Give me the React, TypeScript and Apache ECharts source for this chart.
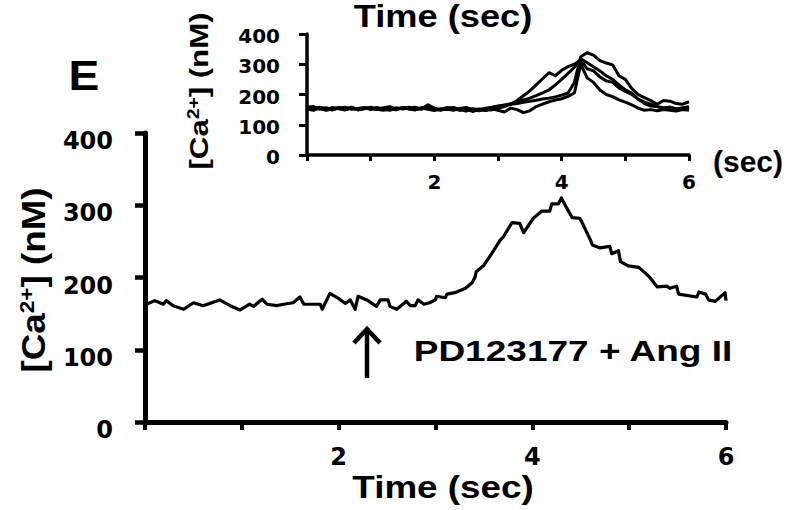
import React, { useEffect, useRef } from 'react';
import * as echarts from 'echarts';

// Main trace: time (sec) and [Ca2+] (nM)
const mainTime = [0, 0.1, 0.19, 0.22, 0.29, 0.4, 0.5, 0.6, 0.77, 0.88, 0.98, 1.08, 1.12, 1.21, 1.26, 1.36, 1.43, 1.53, 1.6, 1.64, 1.81, 1.83, 1.91, 2.01, 2.07, 2.12, 2.17, 2.2, 2.29, 2.39, 2.43, 2.51, 2.53, 2.6, 2.7, 2.74, 2.79, 2.82, 2.88, 2.94, 3.0, 3.01, 3.1, 3.12, 3.2, 3.31, 3.38, 3.41, 3.42, 3.5, 3.58, 3.67, 3.7, 3.79, 3.87, 3.91, 4.01, 4.1, 4.18, 4.2, 4.27, 4.3, 4.34, 4.41, 4.49, 4.51, 4.6, 4.62, 4.7, 4.8, 4.82, 4.89, 4.91, 4.99, 5.1, 5.2, 5.22, 5.29, 5.39, 5.42, 5.49, 5.51, 5.7, 5.72, 5.79, 5.82, 5.89, 5.99, 6.0];
const mainCa = [162, 168, 163, 168, 161, 156, 165, 161, 169, 161, 155, 163, 160, 170, 163, 161, 163, 165, 173, 163, 163, 156, 178, 170, 164, 169, 156, 174, 169, 160, 169, 169, 160, 156, 167, 161, 161, 169, 163, 165, 169, 174, 172, 177, 179, 185, 193, 201, 208, 217, 233, 252, 256, 276, 275, 262, 282, 292, 292, 302, 302, 310, 300, 283, 282, 277, 252, 245, 241, 243, 233, 237, 222, 216, 214, 202, 199, 187, 188, 185, 188, 177, 173, 180, 177, 169, 167, 179, 168];

// Inset: four traces sampled every 0.1 s
const insetTime = [0, 0.1, 0.2, 0.3, 0.4, 0.5, 0.6, 0.7, 0.8, 0.9, 1.0, 1.1, 1.2, 1.3, 1.4, 1.5, 1.6, 1.7, 1.8, 1.9, 2.0, 2.1, 2.2, 2.3, 2.4, 2.5, 2.6, 2.7, 2.8, 2.9, 3.0, 3.1, 3.2, 3.3, 3.4, 3.5, 3.6, 3.7, 3.8, 3.9, 4.0, 4.1, 4.2, 4.3, 4.4, 4.5, 4.6, 4.7, 4.8, 4.9, 5.0, 5.1, 5.2, 5.3, 5.4, 5.5, 5.6, 5.7, 5.8, 5.9, 6.0];
const insetA = [158, 160, 152, 156, 150, 155, 158, 151, 154, 157, 150, 153, 156, 160, 152, 155, 158, 150, 154, 156, 152, 150, 157, 153, 148, 155, 150, 146, 152, 149, 155, 160, 168, 180, 196, 212, 232, 252, 272, 262, 280, 292, 300, 314, 285, 278, 258, 245, 240, 222, 210, 200, 185, 175, 168, 160, 156, 158, 152, 150, 156];
const insetB = [152, 148, 155, 150, 157, 153, 149, 156, 151, 154, 158, 150, 152, 155, 149, 157, 153, 150, 156, 160, 151, 148, 154, 157, 150, 145, 153, 150, 155, 158, 162, 165, 168, 170, 174, 178, 181, 185, 188, 192, 198, 205, 240, 325, 338, 330, 312, 304, 298, 262, 250, 220, 200, 190, 180, 168, 180, 178, 170, 168, 176];
const insetC = [150, 156, 153, 148, 152, 157, 150, 155, 149, 153, 156, 151, 148, 154, 150, 157, 152, 149, 155, 151, 147, 153, 150, 156, 149, 152, 144, 150, 147, 153, 148, 142, 155, 150, 140, 146, 160, 168, 176, 182, 186, 194, 205, 300, 255, 240, 215, 200, 193, 182, 175, 166, 155, 148, 150, 146, 150, 148, 145, 150, 148];
const insetD = [155, 151, 158, 153, 149, 156, 152, 158, 150, 155, 153, 157, 150, 148, 156, 152, 155, 158, 151, 166, 155, 150, 152, 148, 154, 157, 150, 152, 148, 150, 158, 164, 170, 176, 182, 188, 196, 205, 215, 232, 250, 270, 290, 318, 305, 292, 278, 262, 250, 232, 215, 205, 185, 170, 162, 160, 155, 158, 152, 156, 160];

const xLabelsShown = [2, 4, 6];

const SANS = "'Liberation Sans', Arial, sans-serif";
const WIDE = "'DejaVu Sans', sans-serif";

function pairs(t: number[], v: number[]) {
  return t.map((x, i) => [x, v[i]]);
}

export default function App() {
  const ref = useRef<HTMLDivElement>(null);
  useEffect(() => {
    const chart = echarts.init(ref.current!, null, { renderer: 'svg' });
    const xFmt = (v: number) => (xLabelsShown.includes(v) ? String(v) : '');
    const lineS = (data: number[][], xi: number, w: number) => ({
      type: 'line',
      xAxisIndex: xi,
      yAxisIndex: xi,
      data,
      symbol: 'none',
      showSymbol: false,
      lineStyle: { color: '#000', width: w, join: 'round' },
      z: 3,
    });
    const option: any = {
      animation: false,
      backgroundColor: '#fff',
      grid: [
        { left: 145, top: 133, width: 581, height: 289, containLabel: false, outerBoundsMode: 'none' },
        { left: 307, top: 34, width: 382, height: 121, containLabel: false, outerBoundsMode: 'none' },
      ],
      xAxis: [
        {
          type: 'value', gridIndex: 0, min: 0, max: 6, interval: 1,
          splitLine: { show: false },
          axisLine: { show: true, onZero: false, lineStyle: { color: '#000', width: 5 } },
          axisTick: { show: true, length: 8, lineStyle: { color: '#000', width: 4 } },
          axisLabel: { formatter: xFmt, margin: 23, color: '#000', fontFamily: WIDE, fontWeight: 'bold', fontSize: 24 },
        },
        {
          type: 'value', gridIndex: 1, min: 0, max: 6, interval: 1,
          splitLine: { show: false },
          axisLine: { show: true, onZero: false, lineStyle: { color: '#000', width: 3.5 } },
          axisTick: { show: true, length: 6, lineStyle: { color: '#000', width: 3 } },
          axisLabel: { formatter: xFmt, margin: 17, color: '#000', fontFamily: WIDE, fontWeight: 'bold', fontSize: 20 },
        },
      ],
      yAxis: [
        {
          type: 'value', gridIndex: 0, min: 0, max: 400, interval: 100,
          splitLine: { show: false },
          axisLine: { show: true, onZero: false, lineStyle: { color: '#000', width: 5 } },
          axisTick: { show: true, length: 10, lineStyle: { color: '#000', width: 4.5 } },
          axisLabel: { margin: 32, verticalAlign: 'top', lineHeight: 16, color: '#000', fontFamily: WIDE, fontWeight: 'bold', fontSize: 24 },
        },
        {
          type: 'value', gridIndex: 1, min: 0, max: 400, interval: 100,
          splitLine: { show: false },
          axisLine: { show: true, onZero: false, lineStyle: { color: '#000', width: 3.5 } },
          axisTick: { show: true, length: 8, lineStyle: { color: '#000', width: 3 } },
          axisLabel: { margin: 27, verticalAlign: 'top', lineHeight: 4, color: '#000', fontFamily: WIDE, fontWeight: 'bold', fontSize: 20 },
        },
      ],
      series: [
        lineS(pairs(mainTime, mainCa), 0, 3.2),
        lineS(pairs(insetTime, insetA), 1, 3),
        lineS(pairs(insetTime, insetB), 1, 3),
        lineS(pairs(insetTime, insetC), 1, 3),
        lineS(pairs(insetTime, insetD), 1, 3),
      ],
      graphic: [
        { type: 'text', x: 84, y: 75, scaleX: 1.1, style: { text: 'E', fill: '#000', font: `bold 42px ${SANS}`, align: 'center', verticalAlign: 'middle' } },
        { type: 'text', x: 443, y: 15.5, scaleX: 1.17, style: { text: 'Time (sec)', fill: '#000', font: `bold 31px ${SANS}`, align: 'center', verticalAlign: 'middle' } },
        { type: 'text', x: 443, y: 487, scaleX: 1.15, style: { text: 'Time (sec)', fill: '#000', font: `bold 32px ${SANS}`, align: 'center', verticalAlign: 'middle' } },
        { type: 'text', x: 748, y: 161, style: { text: '(sec)', fill: '#000', font: `bold 30px ${SANS}`, align: 'center', verticalAlign: 'middle' } },
        { type: 'text', x: 573, y: 350, scaleX: 1.235, style: { text: 'PD123177 + Ang II', fill: '#000', font: `bold 30px ${SANS}`, align: 'center', verticalAlign: 'middle' } },
        {
          type: 'text', x: 33, y: 280, rotation: Math.PI / 2, scaleX: 1.08,
          style: {
            text: '{a|[Ca}{s|2+}{a|] (nM)}', fill: '#000', align: 'center', verticalAlign: 'middle',
            rich: {
              a: { fontFamily: SANS, fontWeight: 'bold', fontSize: 34, fill: '#000' },
              s: { fontFamily: SANS, fontWeight: 'bold', fontSize: 21, fill: '#000', verticalAlign: 'top' },
            },
          },
        },
        {
          type: 'text', x: 199, y: 91, rotation: Math.PI / 2, scaleX: 1.2,
          style: {
            text: '{a|[Ca}{s|2+}{a|] (nM)}', fill: '#000', align: 'center', verticalAlign: 'middle',
            rich: {
              a: { fontFamily: SANS, fontWeight: 'bold', fontSize: 26, fill: '#000' },
              s: { fontFamily: SANS, fontWeight: 'bold', fontSize: 16, fill: '#000', verticalAlign: 'top' },
            },
          },
        },
        { type: 'line', shape: { x1: 367, y1: 330, x2: 367, y2: 378 }, style: { stroke: '#000', lineWidth: 4.5 } },
        { type: 'polyline', shape: { points: [[354, 343], [367, 329], [380, 343]] }, style: { stroke: '#000', lineWidth: 4.5, fill: null, lineJoin: 'miter' } },
      ],
    };
    chart.setOption(option);
    return () => chart.dispose();
  }, []);
  return <div ref={ref} style={{ position: 'absolute', left: 0, top: 0, width: 787, height: 510 }} />;
}
